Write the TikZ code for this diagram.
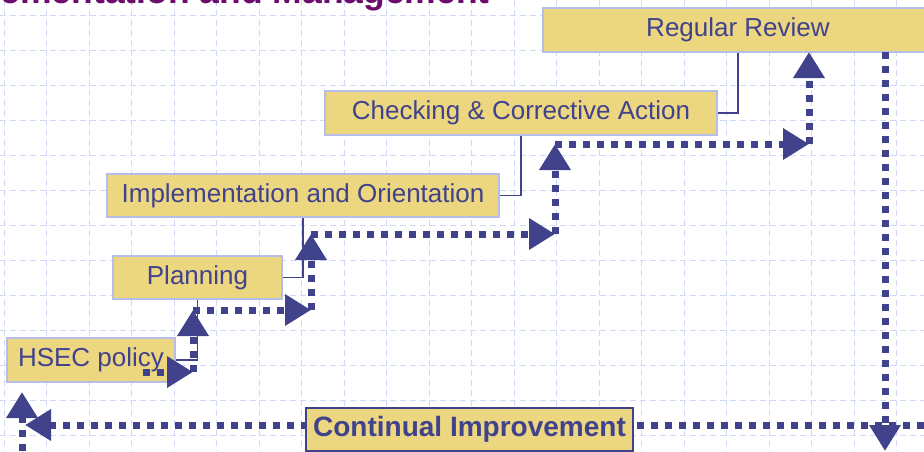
\documentclass[tikz,border=0pt]{standalone}
\usepackage{fontspec}
\setmainfont{Liberation Sans}
\usepackage{tikz}
\usetikzlibrary{arrows.meta}

\definecolor{ink}{RGB}{64,66,140}
\definecolor{boxfill}{RGB}{236,214,128}
\definecolor{boxline}{RGB}{180,190,232}
\definecolor{gridblue}{RGB}{208,218,248}
\definecolor{titlepurple}{RGB}{108,12,108}

\begin{document}
\begin{tikzpicture}[x=1pt, y=-1pt,
  gridline/.style={draw=gridblue, line width=1pt, dash pattern=on 6pt off 4pt},
  stepbox/.style={rectangle, draw=boxline, fill=boxfill, line width=1.5pt, inner sep=0pt,
    text=ink, font=\fontsize{26}{30}\selectfont, minimum height=44pt},
  goalbox/.style={stepbox, draw=ink, font=\fontsize{28}{32}\selectfont\bfseries},
  link/.style={draw=ink, line width=1.5pt},
  flow/.style={draw=ink, line width=7pt, dash pattern=on 7pt off 7pt,
    -{Triangle[length=26pt,width=30pt]}}]
\useasboundingbox (0,0) rectangle (924,451);
\fill[white] (0,0) rectangle (924,451);

% background grid
\foreach \k in {0,...,21}
  \draw[gridline] (4+42.5*\k,0) -- (4+42.5*\k,451);
\foreach \k in {0,...,12}
  \draw[gridline] (0,15+35*\k) -- (924,15+35*\k);

\node[anchor=base east, inner sep=0pt, text=titlepurple,
  font=\fontsize{35.5}{40}\selectfont\bfseries] (title) at (490,3) {Implementation and Management};

% loop back
\coordinate (b0) at (924,425);
\coordinate (b1) at (25,425);
\draw[flow] (b0) -- (b1);
\node[goalbox, minimum width=327pt, minimum height=43pt] (improve) at (469.5,429.5) {Continual Improvement};

% steps
\node[stepbox, minimum width=168pt] (policy) at (91,360) {HSEC policy};
\node[stepbox, minimum width=169pt, minimum height=43pt] (planning) at (197.5,277.5) {Planning};
\node[stepbox, minimum width=392pt, minimum height=43pt] (implement) at (303,195.5) {Implementation and Orientation};
\node[stepbox, minimum width=392pt] (checking) at (521,113) {Checking \& Corrective Action};
\node[stepbox, minimum width=390pt] (review) at (738,30) {Regular Review};

\draw[link] (policy.east) -| (planning.south);
\draw[link] (planning.east) -| (implement.south);
\draw[link] (implement.east) -| (checking.south);
\draw[link] (checking.east) -| (review.south);

% staircase
\coordinate (s0) at (143,372);
\coordinate (s1) at (193,372);
\coordinate (s2) at (193,310);
\coordinate (s3) at (311,310);
\coordinate (s4) at (311,234);
\coordinate (s5) at (555,234);
\coordinate (s6) at (555,144);
\coordinate (s7) at (809,144);
\coordinate (s8) at (809,52);
\foreach \a/\b in {s0/s1, s1/s2, s2/s3, s3/s4, s4/s5, s5/s6, s6/s7, s7/s8}
  \draw[flow] (\a) -- (\b);

\coordinate (r0) at (885,52);
\coordinate (r1) at (885,451);
\draw[flow] (r0) -- (r1);

\coordinate (u0) at (22,451);
\coordinate (u1) at (22,392);
\draw[flow] (u0) -- (u1);
\end{tikzpicture}
\end{document}
